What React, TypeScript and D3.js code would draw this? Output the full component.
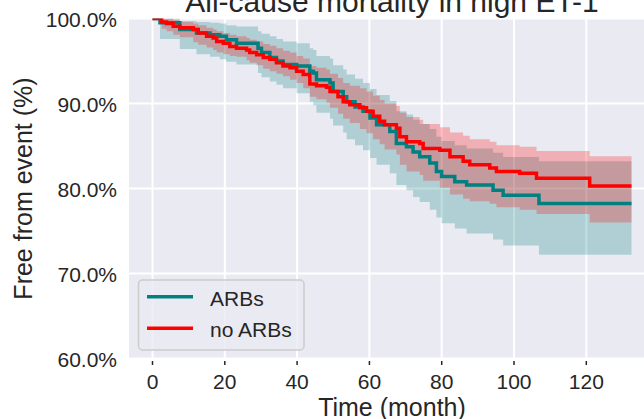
import React from 'react';
import * as d3 from 'd3';

// ARBs group (teal)
const arbTime = [0, 2.07, 7.55, 12.17, 15.92, 18.61, 20.44, 23.23, 29.19, 30.15, 32.46, 34.29, 36.11, 39.86, 43.52, 44.48, 45.35, 49.1, 49.96, 52.75, 53.71, 56.02, 58.23, 60.16, 61.98, 65.64, 67.46, 70.25, 72.08, 73.91, 76.7, 78.53, 79.97, 83.62, 86.89, 94.2, 96.99, 106.9];
const arbSurv = [100, 99.5, 98.7, 98.3, 98.1, 97.9, 97.5, 97.1, 96.5, 96.0, 95.4, 95.0, 94.6, 94.4, 93.8, 93.6, 92.8, 92.4, 91.4, 90.8, 90.2, 89.6, 89.1, 88.3, 87.5, 86.7, 85.3, 84.9, 84.3, 83.75, 83.0, 82.0, 81.4, 80.8, 80.4, 79.8, 79.2, 78.25];
const arbLower = [100, 97.6, 96.4, 95.8, 95.5, 95.2, 94.9, 94.6, 93.6, 93.1, 92.6, 92.2, 91.8, 91.2, 90.2, 89.8, 88.9, 88.2, 87.4, 86.6, 85.8, 85.1, 84.5, 83.6, 82.8, 81.8, 80.4, 79.8, 79.0, 78.4, 77.5, 76.6, 75.9, 75.3, 74.7, 74.0, 73.3, 72.2];
const arbUpper = [100, 100, 99.7, 99.6, 99.5, 99.4, 99.2, 99.05, 98.5, 98.2, 97.9, 97.6, 97.3, 97.1, 96.5, 96.3, 95.6, 95.3, 94.5, 94.0, 93.4, 92.9, 92.4, 91.7, 91.0, 90.3, 89.1, 88.7, 88.1, 87.6, 87.0, 86.1, 85.6, 85.1, 84.7, 84.2, 83.7, 83.2];

// no ARBs group (red)
const noArbTime = [0, 2.55, 3.9, 5.72, 7.55, 11.3, 12.65, 14.96, 16.78, 17.75, 19.57, 21.4, 23.23, 26.02, 26.88, 28.81, 30.63, 32.46, 34.29, 36.11, 38.04, 39.86, 41.69, 43.52, 45.35, 48.13, 49.1, 51.31, 52.75, 54.58, 57.37, 59.2, 61.02, 62.85, 64.2, 67.46, 68.43, 70.25, 73.91, 74.87, 79.49, 82.28, 85.93, 87.76, 93.29, 95.14, 101.58, 106.22, 120.93];
const noArbSurv = [100, 99.6, 99.4, 99.1, 98.9, 98.7, 98.3, 97.9, 97.7, 97.3, 97.1, 96.7, 96.5, 96.3, 96.0, 95.75, 95.4, 95.2, 94.8, 94.4, 94.2, 93.8, 93.4, 92.3, 92.1, 91.9, 91.4, 90.8, 90.2, 89.85, 89.5, 89.1, 88.5, 87.9, 87.5, 87.1, 86.1, 85.5, 85.3, 84.7, 84.5, 83.75, 83.2, 82.8, 82.4, 82.0, 81.8, 81.2, 80.3];
const noArbLower = [100, 98.8, 98.5, 98.1, 97.8, 97.2, 96.9, 96.6, 96.3, 96.0, 95.8, 95.6, 95.5, 95.1, 94.8, 94.5, 94.1, 93.8, 93.5, 93.2, 92.8, 92.4, 91.8, 90.8, 90.5, 90.1, 89.5, 88.8, 88.2, 87.7, 87.0, 86.5, 85.8, 85.2, 84.6, 84.0, 82.8, 82.0, 81.6, 80.9, 80.1, 79.3, 78.8, 78.5, 78.2, 77.8, 77.5, 77.0, 76.0];
const noArbUpper = [100, 100, 100, 99.8, 99.6, 99.4, 99.2, 98.9, 98.7, 98.5, 98.3, 98.1, 97.9, 97.7, 97.5, 97.3, 97.0, 96.8, 96.5, 96.2, 96.0, 95.6, 95.3, 94.4, 94.2, 94.0, 93.5, 93.0, 92.4, 92.1, 91.8, 91.4, 90.9, 90.4, 90.0, 89.7, 88.9, 88.4, 88.1, 87.6, 87.2, 86.6, 86.2, 85.8, 85.5, 85.1, 84.9, 84.4, 83.8];

const lastTime = 132.5;
const xTicks = [0, 20, 40, 60, 80, 100, 120];
const yTicks = [60, 70, 80, 90, 100];

const W = 644;
const H = 419;
const FONT = '"Liberation Sans", Arial, sans-serif';
const TXT = '#262626';

type Pt = { t: number; s: number; lo: number; hi: number };

const toRows = (t: number[], s: number[], lo: number[], hi: number[]): Pt[] => {
  const rows = t.map((v, i) => ({ t: v, s: s[i], lo: lo[i], hi: hi[i] }));
  const last = rows[rows.length - 1];
  rows.push({ ...last, t: lastTime });
  return rows;
};

const App: React.FC = () => {
  const left = 129, right = 655, top = 18.5, bottom = 358.5;

  const x = d3.scaleLinear().domain([-6.5, 139]).range([left, right]);
  const y = d3.scaleLinear().domain([60, 100]).range([bottom, top]);

  const arb = toRows(arbTime, arbSurv, arbLower, arbUpper);
  const noArb = toRows(noArbTime, noArbSurv, noArbLower, noArbUpper);

  const line = d3.line<Pt>().x(d => x(d.t)).y(d => y(d.s)).curve(d3.curveStepAfter);
  const band = d3.area<Pt>().x(d => x(d.t)).y0(d => y(d.lo)).y1(d => y(d.hi)).curve(d3.curveStepAfter);

  const fmt = (v: number) => `${v.toFixed(1)}%`;

  return (
    <svg width={W} height={H} style={{ position: 'absolute', left: 0, top: 0, background: '#fff' }} fontFamily={FONT}>
      <defs>
        <clipPath id="plot">
          <rect x={left} y={top} width={right - left} height={bottom - top} />
        </clipPath>
      </defs>
      <rect x={left} y={top} width={right - left} height={bottom - top} fill="#EAEAF2" />

      {/* grid */}
      <g stroke="#fff" strokeWidth={2}>
        {xTicks.map(t => <line key={'gx' + t} x1={x(t)} x2={x(t)} y1={top} y2={bottom} />)}
        {yTicks.map(v => <line key={'gy' + v} x1={left} x2={right} y1={y(v)} y2={y(v)} />)}
      </g>

      <g clipPath="url(#plot)">
        <path d={band(arb) || ''} fill="teal" fillOpacity={0.25} />
        <path d={band(noArb) || ''} fill="red" fillOpacity={0.25} />
        <path d={line(arb) || ''} fill="none" stroke="#008080" strokeWidth={3.5} />
        <path d={line(noArb) || ''} fill="none" stroke="#FF0000" strokeWidth={3.5} />
      </g>

      {/* x axis */}
      <g>
        {xTicks.map(t => (
          <g key={'xt' + t}>
            <line x1={x(t)} x2={x(t)} y1={361} y2={365} stroke={TXT} strokeWidth={1.5} />
            <text x={x(t)} y={389} textAnchor="middle" fontSize={21} fill={TXT}>{t}</text>
          </g>
        ))}
        <text x={(left + right) / 2} y={416} textAnchor="middle" fontSize={25} fill={TXT}>Time (month)</text>
      </g>

      {/* y axis */}
      <g>
        {yTicks.map(v => (
          <text key={'yt' + v} x={117} y={y(v) + 8.5} textAnchor="end" fontSize={21} fill={TXT}>{fmt(v)}</text>
        ))}
        <text transform={`translate(32,${(top + bottom) / 2}) rotate(-90)`} textAnchor="middle" fontSize={25} fill={TXT}>Free from event (%)</text>
      </g>

      <text x={(left + right) / 2} y={12} textAnchor="middle" fontSize={30} fill={TXT}>All-cause mortality in high ET-1</text>

      {/* legend */}
      <g>
        <rect x={138.5} y={280} width={165.5} height={70} rx={4} fill="#EAEAF2" fillOpacity={0.8} stroke="#CCCCCC" strokeWidth={1.5} />
        <line x1={147} x2={193} y1={296.7} y2={296.7} stroke="#008080" strokeWidth={3.5} />
        <text x={210} y={306} fontSize={21} fill={TXT}>ARBs</text>
        <line x1={147} x2={193} y1={328.3} y2={328.3} stroke="#FF0000" strokeWidth={3.5} />
        <text x={210} y={337} fontSize={21} fill={TXT}>no ARBs</text>
      </g>
    </svg>
  );
};

export default App;
